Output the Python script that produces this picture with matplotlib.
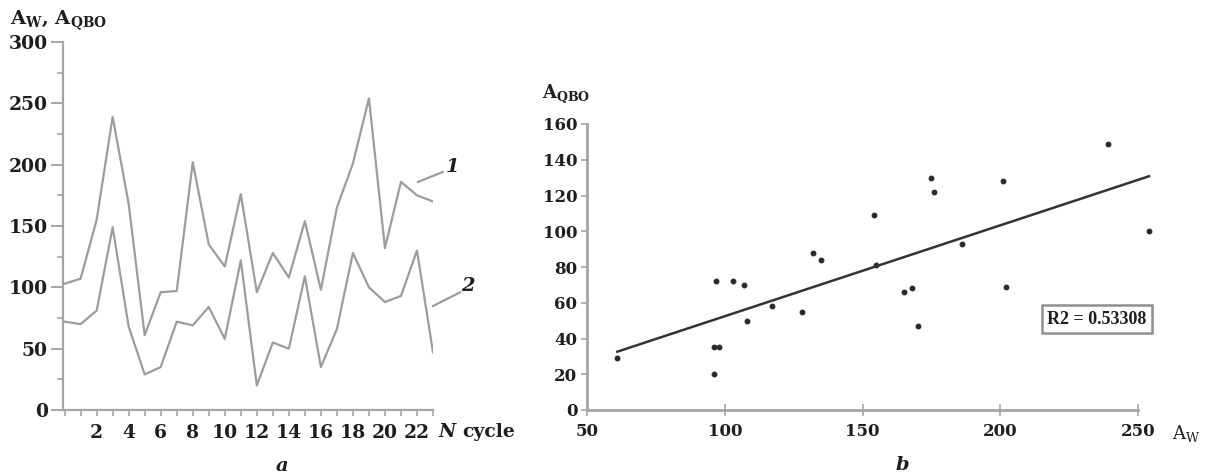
import numpy as np
import matplotlib
matplotlib.use("Agg")
import matplotlib.pyplot as plt
from matplotlib.ticker import MultipleLocator, FixedLocator

plt.rcParams["mathtext.fontset"] = "dejavuserif"

# ---- data ----
cycles = list(range(24))
A_W = [103, 107, 155, 239, 168, 61, 96, 97, 202, 135, 117, 176,
       96, 128, 108, 154, 98, 165, 201, 254, 132, 186, 175, 170]
A_QBO = [72, 70, 81, 149, 68, 29, 35, 72, 69, 84, 58, 122,
         20, 55, 50, 109, 35, 66, 128, 100, 88, 93, 130, 47]
left_xticks = [2, 4, 6, 8, 10, 12, 14, 16, 18, 20, 22]
left_yticks = [0, 50, 100, 150, 200, 250, 300]
right_xticks = [50, 100, 150, 200, 250]
right_yticks = [0, 20, 40, 60, 80, 100, 120, 140, 160]
r2_text = "R2 = 0.53308"

W, H = 1215, 475
fig = plt.figure(figsize=(W / 100, H / 100), dpi=100)
fig.patch.set_facecolor("white")

serif = ["DejaVu Serif"]
spine_col = "#a5a5a5"
line_col = "#9c9c9c"
txt_col = "#1e1e1e"

def px_axes(l, r, t, b):
    return [l / W, (H - b) / H, (r - l) / W, (b - t) / H]

# ---------------- left panel ----------------
ax1 = fig.add_axes(px_axes(63, 433, 42, 410))
ax1.plot(cycles, A_W, color=line_col, lw=1.6)
ax1.plot(cycles, A_QBO, color=line_col, lw=1.6)
ax1.set_xlim(-0.1, 23)
ax1.set_ylim(0, 300)
for s in ["top", "right"]:
    ax1.spines[s].set_visible(False)
for s in ["left", "bottom"]:
    ax1.spines[s].set_color(spine_col)
    ax1.spines[s].set_linewidth(1.6)
ax1.yaxis.set_major_locator(FixedLocator(left_yticks))
ax1.yaxis.set_minor_locator(MultipleLocator(25))
ax1.xaxis.set_major_locator(FixedLocator(left_xticks))
ax1.xaxis.set_minor_locator(MultipleLocator(1))
ax1.tick_params(axis="y", which="major", length=9, width=1.4, color=spine_col, pad=2)
ax1.tick_params(axis="y", which="minor", length=4, width=1.2, color=spine_col)
ax1.tick_params(axis="x", which="both", length=4, width=1.2, color=spine_col, pad=6)
for lab in ax1.get_xticklabels() + ax1.get_yticklabels():
    lab.set_fontfamily(serif)
    lab.set_fontweight("bold")
    lab.set_fontsize(13.5)
    lab.set_color(txt_col)

# series labels with leader lines
ax1.plot([22.06, 23.6], [185.9, 194], color=line_col, lw=1.6, clip_on=False)
ax1.text(24.25, 198, "1", fontfamily=serif, fontweight="bold", fontstyle="italic",
         fontsize=14, color=txt_col, ha="center", va="center")
ax1.plot([23.0, 24.7], [84.8, 96], color=line_col, lw=1.6, clip_on=False)
ax1.text(25.2, 101, "2", fontfamily=serif, fontweight="bold", fontstyle="italic",
         fontsize=14, color=txt_col, ha="center", va="center")

fig.text(10 / W, 1 - 20 / H, r"A$_{\mathbf{W}}$, A$_{\mathbf{QBO}}$", fontfamily=serif,
         fontweight="bold", fontsize=14, color=txt_col, ha="left", va="center")
fig.text(438 / W, 1 - 432 / H, "N", fontfamily=serif,
         fontweight="bold", fontstyle="italic", fontsize=13.5, color=txt_col,
         ha="left", va="center")
fig.text(462 / W, 1 - 432 / H, "cycle", fontfamily=serif,
         fontweight="bold", fontsize=13.5, color=txt_col, ha="left", va="center")
fig.text(282 / W, 1 - 466 / H, "a", fontfamily=serif, fontweight="bold",
         fontstyle="italic", fontsize=14, color=txt_col, ha="center", va="center")

# ---------------- right panel ----------------
ax2 = fig.add_axes(px_axes(587, 1138, 124, 410))
ax2.plot(A_W, A_QBO, linestyle="none", marker="o", markersize=3.2,
         color="#2a2a2a", clip_on=False)
coef = np.polyfit(A_W, A_QBO, 1)
xs = np.array([min(A_W), max(A_W)])
ax2.plot(xs, np.polyval(coef, xs), color="#333333", lw=1.8, clip_on=False)
ax2.set_xlim(50, 250)
ax2.set_ylim(0, 160)
for s in ["top", "right"]:
    ax2.spines[s].set_visible(False)
for s in ["left", "bottom"]:
    ax2.spines[s].set_color(spine_col)
    ax2.spines[s].set_linewidth(2.0)
ax2.xaxis.set_major_locator(FixedLocator(right_xticks))
ax2.yaxis.set_major_locator(FixedLocator(right_yticks))
ax2.tick_params(axis="y", length=4, width=1.2, color=spine_col, pad=3)
ax2.tick_params(axis="x", direction="inout", length=8, width=1.2, color=spine_col, pad=5)
for lab in ax2.get_xticklabels() + ax2.get_yticklabels():
    lab.set_fontfamily(serif)
    lab.set_fontweight("bold")
    lab.set_fontsize(12)
    lab.set_color(txt_col)

ax2.text(0.925, 0.318, r2_text, transform=ax2.transAxes, fontfamily=["Liberation Serif"],
         fontweight="bold", fontsize=13, color=txt_col, ha="center", va="center",
         bbox=dict(boxstyle="square,pad=0.3", facecolor="white", edgecolor="#8f8f8f", lw=1.8))

fig.text(542 / W, 1 - 94 / H, r"A$_{\mathbf{QBO}}$", fontfamily=serif,
         fontweight="bold", fontsize=13, color=txt_col, ha="left", va="center")
fig.text(1172 / W, 1 - 434 / H, r"A$_{\mathrm{W}}$", fontfamily=serif,
         fontsize=13, color=txt_col, ha="left", va="center")
fig.text(902 / W, 1 - 465 / H, "b", fontfamily=serif, fontweight="bold",
         fontstyle="italic", fontsize=14, color=txt_col, ha="center", va="center")

fig.savefig("out.png", dpi=100, facecolor="white")
